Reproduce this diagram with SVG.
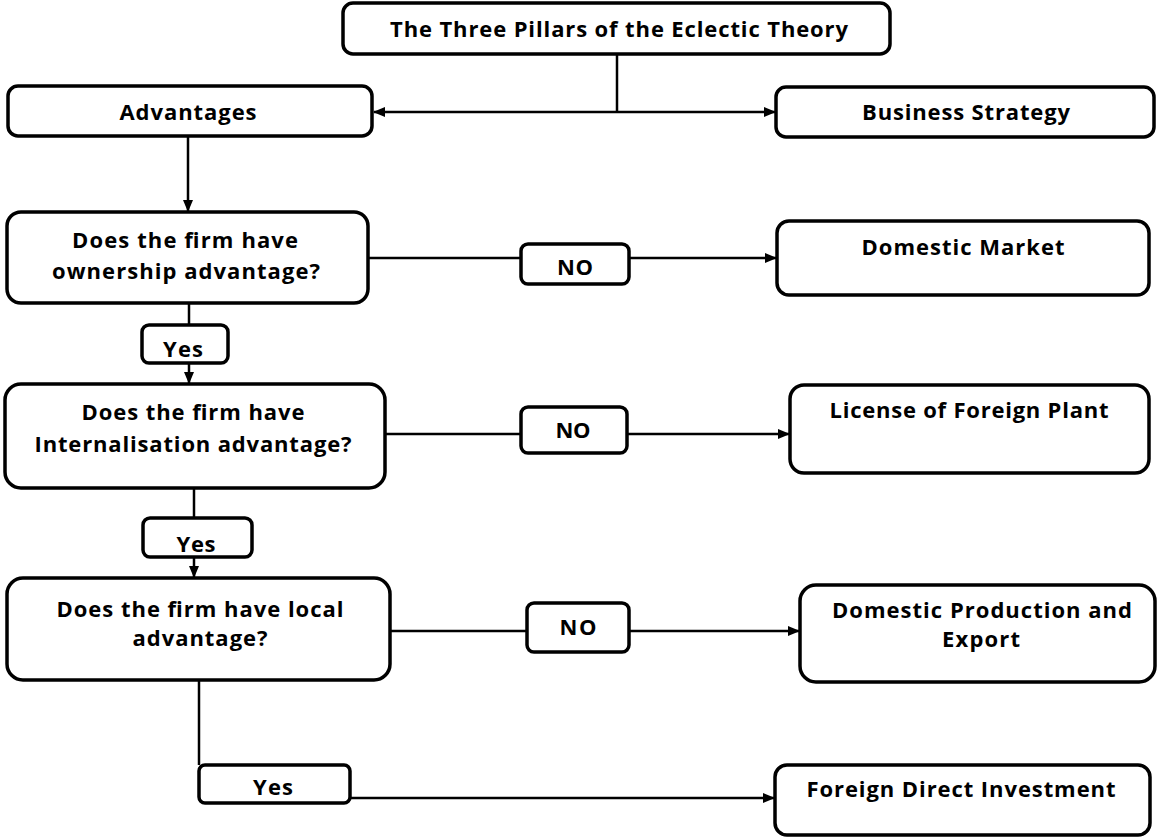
<svg xmlns="http://www.w3.org/2000/svg" width="1163" height="838" viewBox="0 0 1163 838">
<style>
.box{fill:#fff;stroke:#000;stroke-width:3.5}
.lbl{fill:#fff;stroke:#000;stroke-width:3.5}
.t{font-family:"Open Sans","Liberation Sans",sans-serif;font-weight:700;font-size:22px;fill:#000;text-anchor:middle}
.c{fill:none;stroke:#000;stroke-width:2.5}
</style>
<defs>
<marker id="ah" markerUnits="userSpaceOnUse" markerWidth="12" markerHeight="10" refX="11" refY="5" orient="auto">
<path d="M0,0 L12,5 L0,10 Z" fill="#000"/>
</marker>
</defs>
<rect width="1163" height="838" fill="#fff"/>
<g id="connectors">
<path class="c" d="M617,54 V112"/>
<path class="c" d="M617,112 H374" marker-end="url(#ah)"/>
<path class="c" d="M617,112 H775" marker-end="url(#ah)"/>
<path class="c" d="M188,136 V211" marker-end="url(#ah)"/>
<path class="c" d="M368,258 H521"/>
<path class="c" d="M629,258 H776" marker-end="url(#ah)"/>
<path class="c" d="M189,303 V325"/>
<path class="c" d="M189,363 V383" marker-end="url(#ah)"/>
<path class="c" d="M385,434 H521"/>
<path class="c" d="M627,434 H789" marker-end="url(#ah)"/>
<path class="c" d="M194,488 V518"/>
<path class="c" d="M194,557 V577" marker-end="url(#ah)"/>
<path class="c" d="M390,631 H527"/>
<path class="c" d="M629,631 H799" marker-end="url(#ah)"/>
<path class="c" d="M199,680 V765"/>
<path class="c" d="M350,798 H774" marker-end="url(#ah)"/>
</g>
<g id="title"><rect class="box" x="343" y="3" width="547" height="51" rx="10"/><text class="t" x="619" y="37" textLength="458" lengthAdjust="spacing">The Three Pillars of the Eclectic Theory</text></g>
<g id="advantages"><rect class="box" x="8" y="86" width="364" height="50" rx="10"/><text class="t" x="188" y="120" textLength="137" lengthAdjust="spacing">Advantages</text></g>
<g id="business"><rect class="box" x="776" y="87" width="378" height="50" rx="10"/><text class="t" x="966" y="120" textLength="208" lengthAdjust="spacing">Business Strategy</text></g>
<g id="q1"><rect class="box" x="7" y="212" width="361" height="91" rx="14"/><text class="t" x="185" y="248" textLength="226" lengthAdjust="spacing">Does the firm have</text><text class="t" x="186" y="279" textLength="268" lengthAdjust="spacing">ownership advantage?</text></g>
<g id="no1"><rect class="lbl" x="521" y="244" width="108" height="40" rx="7"/><text class="t" x="575" y="275" textLength="36" lengthAdjust="spacing">NO</text></g>
<g id="domestic"><rect class="box" x="777" y="221" width="372" height="74" rx="12"/><text class="t" x="963" y="255" textLength="203" lengthAdjust="spacing">Domestic Market</text></g>
<g id="yes1"><rect class="lbl" x="142" y="325" width="86" height="38" rx="7"/><text class="t" x="183" y="357" textLength="40" lengthAdjust="spacing">Yes</text></g>
<g id="q2"><rect class="box" x="5" y="384" width="380" height="104" rx="16"/><text class="t" x="193" y="420" textLength="223" lengthAdjust="spacing">Does the firm have</text><text class="t" x="193" y="452" textLength="317" lengthAdjust="spacing">Internalisation advantage?</text></g>
<g id="no2"><rect class="lbl" x="521" y="407" width="106" height="46" rx="7"/><text class="t" x="573" y="438" textLength="35" lengthAdjust="spacing">NO</text></g>
<g id="license"><rect class="box" x="790" y="385" width="359" height="88" rx="14"/><text class="t" x="969" y="418" textLength="279" lengthAdjust="spacing">License of Foreign Plant</text></g>
<g id="yes2"><rect class="lbl" x="143" y="518" width="109" height="39" rx="7"/><text class="t" x="196" y="552" textLength="39" lengthAdjust="spacing">Yes</text></g>
<g id="q3"><rect class="box" x="7" y="578" width="383" height="102" rx="16"/><text class="t" x="200" y="617" textLength="287" lengthAdjust="spacing">Does the firm have local</text><text class="t" x="200" y="646" textLength="135" lengthAdjust="spacing">advantage?</text></g>
<g id="no3"><rect class="lbl" x="527" y="603" width="102" height="49" rx="7"/><text class="t" x="578" y="635" textLength="37" lengthAdjust="spacing">NO</text></g>
<g id="dpe"><rect class="box" x="800" y="585" width="355" height="97" rx="16"/><text class="t" x="982" y="618" textLength="300" lengthAdjust="spacing">Domestic Production and</text><text class="t" x="981" y="647" textLength="78" lengthAdjust="spacing">Export</text></g>
<g id="yes3"><rect class="lbl" x="199" y="765" width="151" height="38" rx="6"/><text class="t" x="273" y="795" textLength="40" lengthAdjust="spacing">Yes</text></g>
<g id="fdi"><rect class="box" x="775" y="765" width="375" height="70" rx="12"/><text class="t" x="961" y="797" textLength="309" lengthAdjust="spacing">Foreign Direct Investment</text></g>
</svg>
